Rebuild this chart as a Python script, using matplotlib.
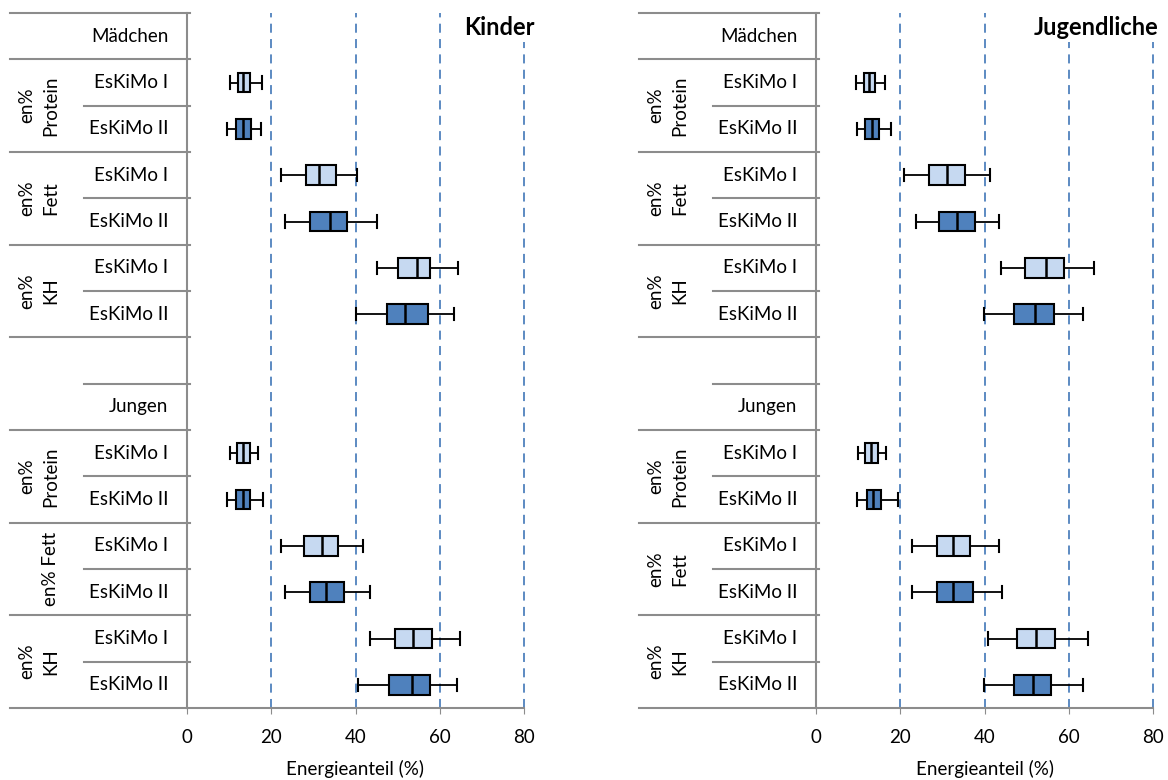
import matplotlib.pyplot as plt
import matplotlib.transforms as mtransforms

plt.rcParams["font.family"] = ["Lato", "DejaVu Sans"]

# row order inside each sex block
row_labels = ["EsKiMo I", "EsKiMo II", "EsKiMo I", "EsKiMo II", "EsKiMo I", "EsKiMo II"]
sex_labels = ["Mädchen", "Jungen"]
xticks = [0, 20, 40, 60, 80]

# (whisker low, q1, median, q3, whisker high) per row: Protein I/II, Fett I/II, KH I/II
kinder_maedchen = [
    (10.3, 12.1, 13.4, 14.9, 17.9),
    (9.6, 11.7, 13.3, 15.1, 17.5),
    (22.3, 28.3, 31.3, 35.3, 40.4),
    (23.2, 29.2, 34.0, 38.1, 45.2),
    (45.1, 50.2, 54.5, 57.7, 64.3),
    (40.0, 47.4, 51.7, 57.3, 63.5),
]
kinder_jungen = [
    (10.1, 11.8, 13.2, 14.9, 16.9),
    (9.6, 11.7, 13.2, 14.9, 18.0),
    (22.2, 27.8, 32.1, 35.9, 41.8),
    (23.2, 29.3, 33.0, 37.3, 43.5),
    (43.5, 49.4, 53.7, 58.1, 64.9),
    (40.6, 48.0, 53.3, 57.7, 64.0),
]
jugend_maedchen = [
    (9.4, 11.3, 12.7, 14.1, 16.3),
    (9.7, 11.7, 13.4, 14.9, 17.9),
    (20.9, 26.9, 31.0, 35.3, 41.2),
    (23.7, 29.1, 33.4, 37.7, 43.4),
    (43.8, 49.6, 54.5, 58.9, 66.0),
    (39.8, 47.1, 52.1, 56.6, 63.5),
]
jugend_jungen = [
    (9.9, 11.6, 13.0, 14.6, 16.6),
    (9.7, 12.2, 13.5, 15.5, 19.4),
    (22.9, 28.8, 32.6, 36.6, 43.5),
    (22.9, 28.8, 32.6, 37.2, 44.1),
    (40.9, 47.6, 52.3, 56.8, 64.5),
    (39.8, 47.1, 51.6, 55.7, 63.4),
]

light = "#c6d9f1"
dark = "#4f81bd"
gray = "#8c8c8c"
fs = 13.5

fig = plt.figure(figsize=(11.68, 7.8), dpi=100)
ax_k = fig.add_axes([187 / 1168, 72 / 780, 337 / 1168, 695 / 780])
ax_j = fig.add_axes([816 / 1168, 72 / 780, 337 / 1168, 695 / 780])


def draw_panel(ax, title, title_x, girls, boys, fett_boys_label):
    ax.set_xlim(0, 80)
    ax.set_ylim(15, 0)
    for x in xticks[1:]:
        ax.axvline(x, color=dark, linestyle=(0, (5, 3.5)), linewidth=1.3, zorder=0,
                   clip_on=False)

    for block, data in zip([1, 9], [girls, boys]):
        stats = []
        for lo, q1, med, q3, hi in data:
            stats.append(dict(whislo=lo, q1=q1, med=med, q3=q3, whishi=hi, fliers=[]))
        pos = [block + i + 0.5 for i in range(6)]
        bp = ax.bxp(stats, positions=pos, orientation="horizontal", widths=0.42,
                    patch_artist=True, showfliers=False, capwidths=0.26,
                    boxprops=dict(edgecolor="black", linewidth=1.5),
                    medianprops=dict(color="black", linewidth=1.8),
                    whiskerprops=dict(color="black", linewidth=1.3),
                    capprops=dict(color="black", linewidth=1.5))
        for i, box in enumerate(bp["boxes"]):
            box.set_facecolor(light if i % 2 == 0 else dark)

    ax.set_ylim(15, 0)
    ax.set_yticks([])
    ax.set_xticks(xticks)
    ax.set_xticklabels([str(t) for t in xticks], fontsize=fs)
    ax.tick_params(axis="x", length=4, color=gray, pad=11)
    for s in ["top", "right"]:
        ax.spines[s].set_visible(False)
    for s in ["left", "bottom"]:
        ax.spines[s].set_color(gray)
        ax.spines[s].set_linewidth(1.5)
    ax.set_xlabel("Energieanteil (%)", fontsize=fs, labelpad=10)

    # table on the left
    tr = mtransforms.blended_transform_factory(ax.transAxes, ax.transData)
    full = [0, 1, 3, 5, 7, 9, 11, 13]
    part = [2, 4, 6, 8, 10, 12, 14]
    for y in full:
        ax.plot([-0.525, 0.01], [y, y], color=gray, linewidth=1.5, transform=tr, clip_on=False)
    ax.plot([-0.525, 0], [15, 15], color=gray, linewidth=1.5, transform=tr, clip_on=False)
    for y in part:
        ax.plot([-0.305, 0.01], [y, y], color=gray, linewidth=1.5, transform=tr, clip_on=False)

    for block, sex in zip([0, 8], sex_labels):
        ax.text(-0.056, block + 0.5, sex, transform=tr, ha="right", va="center", fontsize=fs)
        for i, lab in enumerate(row_labels):
            ax.text(-0.056, block + 1.5 + i, lab, transform=tr, ha="right", va="center", fontsize=fs)
        for g, name in enumerate(["Protein", "Fett", "KH"]):
            y = block + 2 + 2 * g
            if block == 8 and name == "Fett" and fett_boys_label:
                ax.text(-0.405, y, "en% Fett", transform=tr, ha="center", va="center",
                        rotation=90, fontsize=fs)
            else:
                ax.text(-0.44, y, "en%\n" + name, transform=tr, ha="center", va="center",
                        rotation=90, fontsize=fs, linespacing=1.5)

    ax.text(title_x, 0.32, title, transform=tr, ha="right", va="center", fontsize=17,
            fontweight="bold", bbox=dict(facecolor="white", edgecolor="none", pad=2))


draw_panel(ax_k, "Kinder", 1.033, kinder_maedchen, kinder_jungen, True)
draw_panel(ax_j, "Jugendliche", 1.015, jugend_maedchen, jugend_jungen, False)

fig.savefig("out.png", dpi=100)
